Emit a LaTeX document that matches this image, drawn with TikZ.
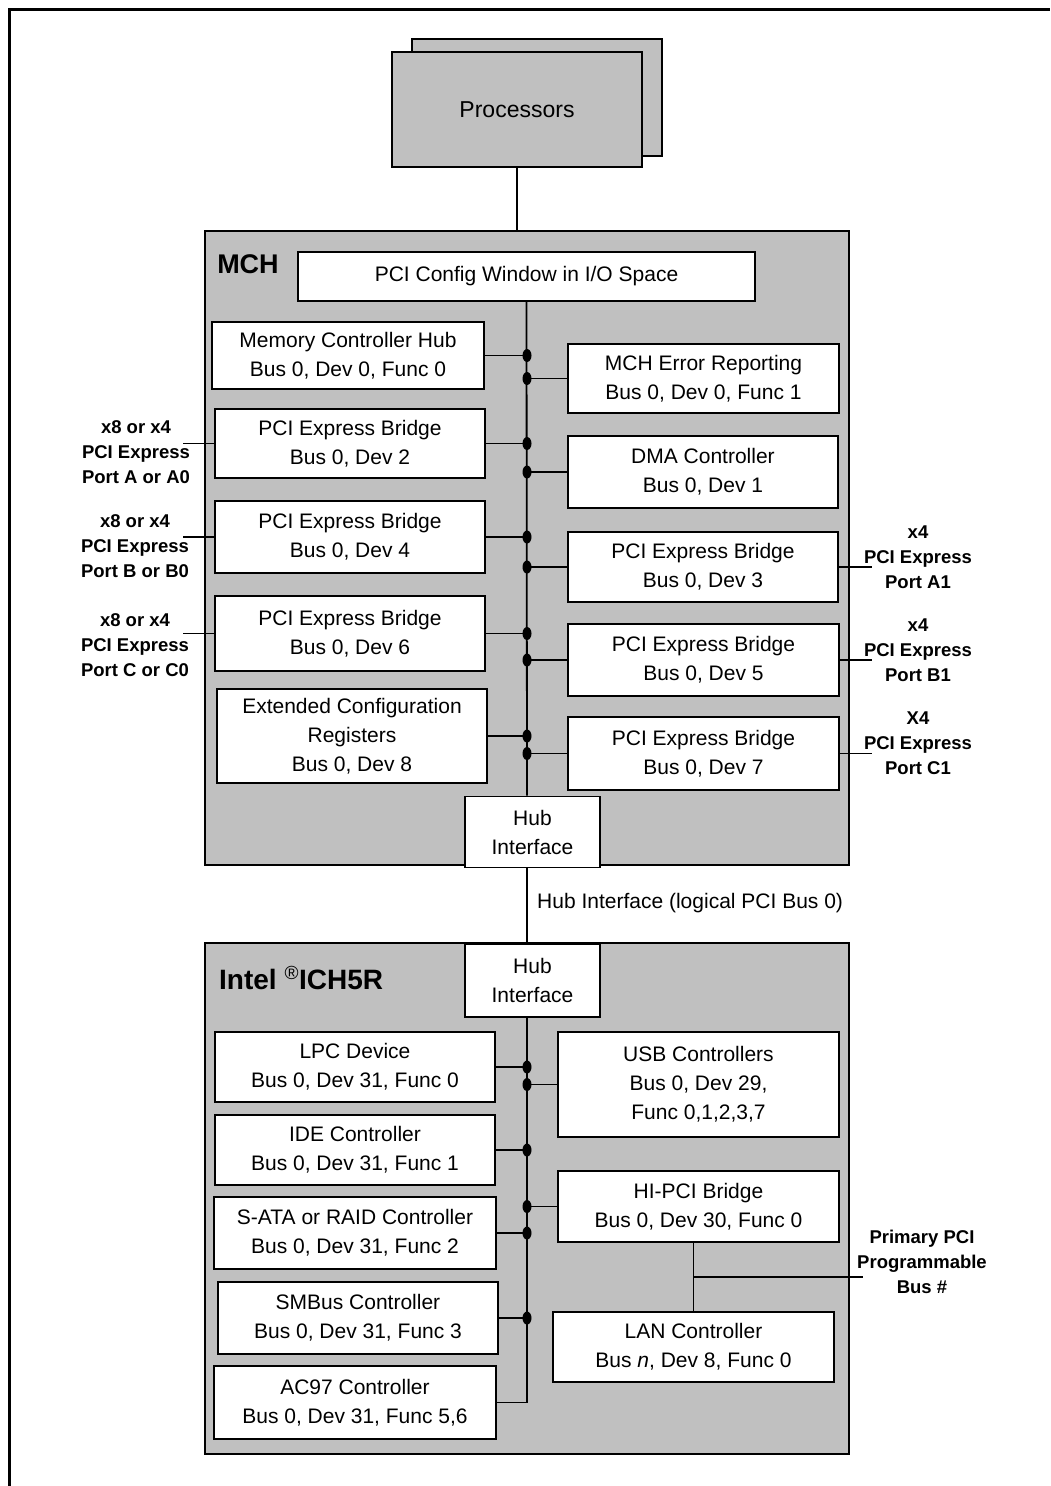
\documentclass[tikz,border=0pt]{standalone}
\usepackage{fontspec}
\setmainfont{Liberation Sans}
\usetikzlibrary{calc}
\definecolor{chipgray}{RGB}{192,192,192}
\newcommand{\regf}{\fontsize{21}{29}\selectfont}
\newcommand{\lblf}{\bfseries\fontsize{18.5}{25}\selectfont}
\begin{document}
\begin{tikzpicture}[x=1pt,y=-1pt,
  box/.style={draw, line width=1.8pt, fill=white, inner sep=0pt, align=center, font=\regf},
  chip/.style={draw, line width=1.8pt, fill=chipgray, inner sep=0pt},
  conn/.style={line width=1.8pt},
  portlbl/.style={align=center, font=\lblf, inner sep=0pt},
  busdot/.style={fill=black}
]
\useasboundingbox (0,0) rectangle (1050,1486);
% frame
\draw[line width=3pt] (9,1486) -- (9,9) -- (1050,9);

% processors
\node[chip, minimum width=250, minimum height=117] (procback) at (537,97.5) {};
\node[chip, minimum width=250, minimum height=115, font=\fontsize{23}{29}\selectfont] (proc) at (517,109.5) {Processors};

% MCH
\node[chip, minimum width=644, minimum height=634] (mch) at (527,548) {};
\node[font=\bfseries\fontsize{27}{30}\selectfont, inner sep=0pt] (mchlbl) at (248,264) {MCH};
\node[box, minimum width=457, minimum height=49] (cfg) at (526.5,276.5) {PCI Config Window in I/O Space};
\draw[conn] (proc.south) -- (proc.south |- mch.north);
\coordinate (bm) at (527,301);

\node[box, minimum width=272, minimum height=67] (mem) at (348,355.5) {Memory Controller Hub\\Bus 0, Dev 0, Func 0};
\node[box, minimum width=271, minimum height=69] (err) at (703.5,378.5) {MCH Error Reporting\\Bus 0, Dev 0, Func 1};
\node[box, minimum width=270, minimum height=69] (pe2) at (350,443.5) {PCI Express Bridge\\Bus 0, Dev 2};
\node[box, minimum width=270, minimum height=72] (dma) at (703,472) {DMA Controller\\Bus 0, Dev 1};
\node[box, minimum width=270, minimum height=72] (pe4) at (350,537) {PCI Express Bridge\\Bus 0, Dev 4};
\node[box, minimum width=270, minimum height=70] (pe3) at (703,567) {PCI Express Bridge\\Bus 0, Dev 3};
\node[box, minimum width=270, minimum height=75] (pe6) at (350,633.5) {PCI Express Bridge\\Bus 0, Dev 6};
\node[box, minimum width=271, minimum height=72] (pe5) at (703.5,660) {PCI Express Bridge\\Bus 0, Dev 5};
\node[box, minimum width=270, minimum height=94] (ext) at (352,736) {Extended Configuration\\Registers\\Bus 0, Dev 8};
\node[box, minimum width=271, minimum height=73] (pe7) at (703.5,753.5) {PCI Express Bridge\\Bus 0, Dev 7};
\node[box, minimum width=135, minimum height=71] (hubm) at (532.5,832) {Hub\\Interface};

% MCH bus
\draw[conn] (cfg.south) -- (bm |- hubm.north);
\foreach \n in {mem,pe2,pe4,pe6,ext}{
  \draw[conn] (\n.east) -- (\n.east -| bm);
  \fill[busdot] (\n.east -| bm) ellipse [x radius=4.5pt, y radius=6.5pt];
}
\foreach \n in {err,dma,pe3,pe5,pe7}{
  \draw[conn] (\n.west) -- (\n.west -| bm);
  \fill[busdot] (\n.west -| bm) ellipse [x radius=4.5pt, y radius=6.5pt];
}

% left ports
\node[portlbl] (lpA) at (136,452) {x8 or x4\\PCI Express\\Port A or A0};
\node[portlbl] (lpB) at (135,546) {x8 or x4\\PCI Express\\Port B or B0};
\node[portlbl] (lpC) at (135,645) {x8 or x4\\PCI Express\\Port C or C0};
\coordinate (pa) at (183,443);
\draw[conn, line width=1.4pt] (pe2.west) -- (pa |- pe2.west);
\draw[conn, line width=1.4pt] (pe4.west) -- (pa |- pe4.west);
\draw[conn, line width=1.4pt] (pe6.west) -- (pa |- pe6.west);

% right ports
\node[portlbl] (rpA) at (918,557.5) {x4\\PCI Express\\Port A1};
\node[portlbl] (rpB) at (918,650.5) {x4\\PCI Express\\Port B1};
\node[portlbl] (rpC) at (918,743) {X4\\PCI Express\\Port C1};
\coordinate (pr) at (872,566);
\draw[conn, line width=1.4pt] (pe3.east) -- (pr |- pe3.east);
\draw[conn, line width=1.4pt] (pe5.east) -- (pr |- pe5.east);
\draw[conn, line width=1.4pt] (pe7.east) -- (pr |- pe7.east);

% ICH
\node[chip, minimum width=644, minimum height=511] (ich) at (527,1198.5) {};
\node[box, minimum width=135, minimum height=73] (hubi) at (532.5,980.5) {Hub\\Interface};
\draw[conn, line width=1.4pt] (bm |- hubm.south) -- (bm |- hubi.north);
\node[anchor=west, font=\regf, inner sep=0pt] (hublbl) at (537,903) {Hub Interface (logical PCI Bus 0)};
\node[anchor=west, font=\bfseries\fontsize{28}{30}\selectfont, inner sep=0pt] (ichlbl) at (219,978) {Intel \textsuperscript{\mdseries\fontsize{19}{20}\selectfont ®}ICH5R};

\node[box, minimum width=280, minimum height=70] (lpc) at (355,1067) {LPC Device\\Bus 0, Dev 31, Func 0};
\node[box, minimum width=281, minimum height=105] (usb) at (698.5,1084.5) {USB Controllers\\Bus 0, Dev 29,\\Func 0,1,2,3,7};
\node[box, minimum width=280, minimum height=70] (ide) at (355,1150) {IDE Controller\\Bus 0, Dev 31, Func 1};
\node[box, minimum width=281, minimum height=71] (hipci) at (698.5,1206.5) {HI-PCI Bridge\\Bus 0, Dev 30, Func 0};
\node[box, minimum width=282, minimum height=72] (sata) at (355,1233) {S-ATA or RAID Controller\\Bus 0, Dev 31, Func 2};
\node[box, minimum width=280, minimum height=72] (smb) at (358,1318) {SMBus Controller\\Bus 0, Dev 31, Func 3};
\node[box, minimum width=281, minimum height=70] (lan) at (693.5,1347) {LAN Controller\\Bus \textit{n}, Dev 8, Func 0};
\node[box, minimum width=282, minimum height=73] (ac97) at (355,1402.5) {AC97 Controller\\Bus 0, Dev 31, Func 5,6};

% ICH bus
\draw[conn] (bm |- hubi.south) -- (bm |- ac97.east) -- (ac97.east);
\foreach \n in {lpc,ide,sata,smb}{
  \draw[conn] (\n.east) -- (\n.east -| bm);
  \fill[busdot] (\n.east -| bm) ellipse [x radius=4.5pt, y radius=6.5pt];
}
\foreach \n in {usb,hipci}{
  \draw[conn] (\n.west) -- (\n.west -| bm);
  \fill[busdot] (\n.west -| bm) ellipse [x radius=4.5pt, y radius=6.5pt];
}

% primary PCI
\draw[conn, line width=1.4pt] (lan.north) -- (lan.north |- hipci.south);
\coordinate (ppj) at (693.5,1277);
\node[portlbl] (pplbl) at (922,1262) {Primary PCI\\Programmable\\Bus \#};
\draw[conn, line width=1.4pt] (ppj) -- (863,1277);
\end{tikzpicture}
\end{document}
